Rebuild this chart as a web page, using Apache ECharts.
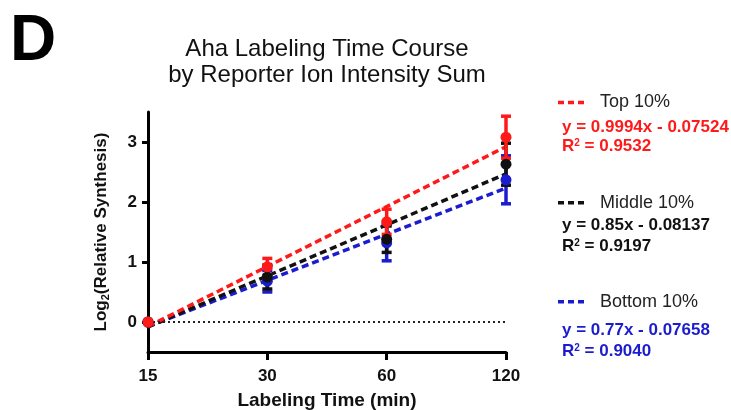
<!DOCTYPE html>
<html>
<head>
<meta charset="utf-8">
<script src="https://cdn.jsdelivr.net/npm/echarts@6/dist/echarts.min.js"></script>
<style>
  html, body { margin: 0; padding: 0; background: #fff; }
  #chart { width: 731px; height: 410px; }
</style>
</head>
<body>
<div id="chart"></div>
<script>
// x positions are doublings of labeling time: 15, 30, 60, 120 min
const timeLabels = ['15', '30', '60', '120']
const xSteps = [0, 1, 2, 3]

const groupNames = ['Top 10%', 'Middle 10%', 'Bottom 10%']
const groupColors = ['#ff1a1a', '#111111', '#1c1ccf']

// mean log2 relative synthesis per group
const topMean = [0, 0.92, 1.67, 3.08]
const middleMean = [0, 0.75, 1.38, 2.63]
const bottomMean = [0, 0.68, 1.32, 2.37]
// error (+/-)
const topErr = [0, 0.14, 0.21, 0.35]
const middleErr = [0, 0.2, 0.22, 0.35]
const bottomErr = [0, 0.18, 0.3, 0.4]

// fit lines printed on the figure
const slopes = [0.9994, 0.85, 0.77]
const intercepts = [-0.07524, -0.08137, -0.07658]
const fitText = ['y = 0.9994x - 0.07524', 'y = 0.85x - 0.08137', 'y = 0.77x - 0.07658']
const r2Text = ['0.9532', '0.9197', '0.9040']

const means = [topMean, middleMean, bottomMean]
const errs = [topErr, middleErr, bottomErr]

const chart = echarts.init(document.getElementById('chart'), null, { renderer: 'canvas' })

const FONT = '"Liberation Sans", Arial, sans-serif'

function errorBarSeries(i) {
  return {
    type: 'custom',
    z: 4,
    clip: false,
    data: xSteps.map((x, k) => [x, means[i][k] - errs[i][k], means[i][k] + errs[i][k]]),
    renderItem: function (params, api) {
      const lo = api.coord([api.value(0), api.value(1)])
      const hi = api.coord([api.value(0), api.value(2)])
      const w = 5
      const style = { stroke: groupColors[i], lineWidth: 3.5 }
      return {
        type: 'group',
        children: [
          { type: 'line', shape: { x1: lo[0], y1: lo[1], x2: hi[0], y2: hi[1] }, style: style },
          { type: 'line', shape: { x1: lo[0] - w, y1: lo[1], x2: lo[0] + w, y2: lo[1] }, style: style },
          { type: 'line', shape: { x1: hi[0] - w, y1: hi[1], x2: hi[0] + w, y2: hi[1] }, style: style }
        ]
      }
    }
  }
}

function pointSeries(i) {
  return {
    type: 'scatter',
    z: 5,
    clip: false,
    symbol: 'circle',
    symbolSize: 11,
    itemStyle: { color: groupColors[i], opacity: 1 },
    data: xSteps.map((x, k) => [x, means[i][k]])
  }
}

function fitSeries(i) {
  const x0 = xSteps[0]
  const x1 = xSteps[xSteps.length - 1]
  return {
    type: 'line',
    z: 3,
    showSymbol: false,
    symbol: 'none',
    clip: false,
    lineStyle: { color: groupColors[i], width: 3.5, type: [7, 4] },
    data: [[x0, slopes[i] * x0 + intercepts[i]], [x1, slopes[i] * x1 + intercepts[i]]]
  }
}

const series = []
// zero reference line
series.push({
  type: 'line',
  data: [],
  markLine: {
    silent: true,
    symbol: 'none',
    label: { show: false },
    lineStyle: { color: '#222', type: [2, 3], width: 2 },
    data: [[{ coord: [0, 0] }, { coord: [3, 0] }]]
  }
})
// draw bottom first so red sits on top
;[2, 1, 0].forEach(i => {
  series.push(fitSeries(i))
  series.push(errorBarSeries(i))
  series.push(pointSeries(i))
})

// legend block on the right (y centres of each text line)
const nameY = [102.5, 202.7, 301.7]
const eqY = [127.5, 225, 330]
const r2Y = [146.7, 246.7, 351.7]

const graphics = [
  {
    type: 'text', x: 10, y: 42,
    style: { text: 'D', font: 'bold 64px ' + FONT, fill: '#000', verticalAlign: 'middle' }
  },
  {
    type: 'text', x: 327, y: 49,
    style: { text: 'Aha Labeling Time Course', font: '24px ' + FONT, fill: '#111', align: 'center', verticalAlign: 'middle' }
  },
  {
    type: 'text', x: 327, y: 75,
    style: { text: 'by Reporter Ion Intensity Sum', font: '24px ' + FONT, fill: '#111', align: 'center', verticalAlign: 'middle' }
  }
]
groupNames.forEach((name, i) => {
  graphics.push({
    type: 'line',
    shape: { x1: 558, y1: nameY[i], x2: 585, y2: nameY[i] },
    style: { stroke: groupColors[i], lineWidth: 3.5, lineDash: [6, 4] }
  })
  graphics.push({
    type: 'text', x: 600, y: nameY[i],
    style: { text: name, font: '18px ' + FONT, fill: '#222', verticalAlign: 'middle' }
  })
  graphics.push({
    type: 'text', x: 562, y: eqY[i],
    style: { text: fitText[i], font: 'bold 17px ' + FONT, fill: groupColors[i], verticalAlign: 'middle' }
  })
  graphics.push({
    type: 'text', x: 562, y: r2Y[i],
    style: {
      text: '{a|R}{s|2}{a| = ' + r2Text[i] + '}',
      verticalAlign: 'middle',
      rich: {
        a: { font: 'bold 17px ' + FONT, fill: groupColors[i] },
        s: { font: 'bold 10px ' + FONT, fill: groupColors[i], verticalAlign: 'top', padding: [0, 0, 6, 0] }
      }
    }
  })
})

const option = {
  animation: false,
  backgroundColor: '#fff',
  grid: { left: 148, right: 225, top: 112, bottom: 58, containLabel: false, outerBoundsMode: 'none' },
  xAxis: {
    type: 'value',
    min: 0,
    max: 3,
    interval: 1,
    name: 'Labeling Time (min)',
    nameLocation: 'middle',
    nameGap: 39,
    nameTextStyle: { fontFamily: FONT, fontWeight: 'bold', fontSize: 19, color: '#111' },
    splitLine: { show: false },
    axisLine: { onZero: false, lineStyle: { color: '#000', width: 3 } },
    axisTick: { show: true, length: 8, lineStyle: { color: '#000', width: 3 } },
    axisLabel: {
      fontFamily: FONT, fontWeight: 'bold', fontSize: 17, color: '#111', margin: 16,
      formatter: v => timeLabels[v]
    }
  },
  yAxis: {
    type: 'value',
    min: -0.5,
    max: 3.5,
    interval: 0.5,
    name: '{n|Log}{s|2}{n|(Relative Synthesis)}',
    nameLocation: 'middle',
    nameRotate: 90,
    nameGap: 37,
    nameTextStyle: {
      rich: {
        n: { fontFamily: FONT, fontWeight: 'bold', fontSize: 17, color: '#111' },
        s: { fontFamily: FONT, fontWeight: 'bold', fontSize: 11, color: '#111', verticalAlign: 'bottom', padding: [9, 0, 0, 0] }
      }
    },
    splitLine: { show: false },
    axisLine: { show: true, onZero: false, lineStyle: { color: '#000', width: 3 } },
    axisTick: { show: true, length: 6, customValues: [0, 1, 2, 3], lineStyle: { color: '#000', width: 3 } },
    axisLabel: {
      customValues: [0, 1, 2, 3],
      fontFamily: FONT, fontWeight: 'bold', fontSize: 17, color: '#111', margin: 11
    }
  },
  series: series,
  graphic: graphics
}

chart.setOption(option)
</script>
</body>
</html>
